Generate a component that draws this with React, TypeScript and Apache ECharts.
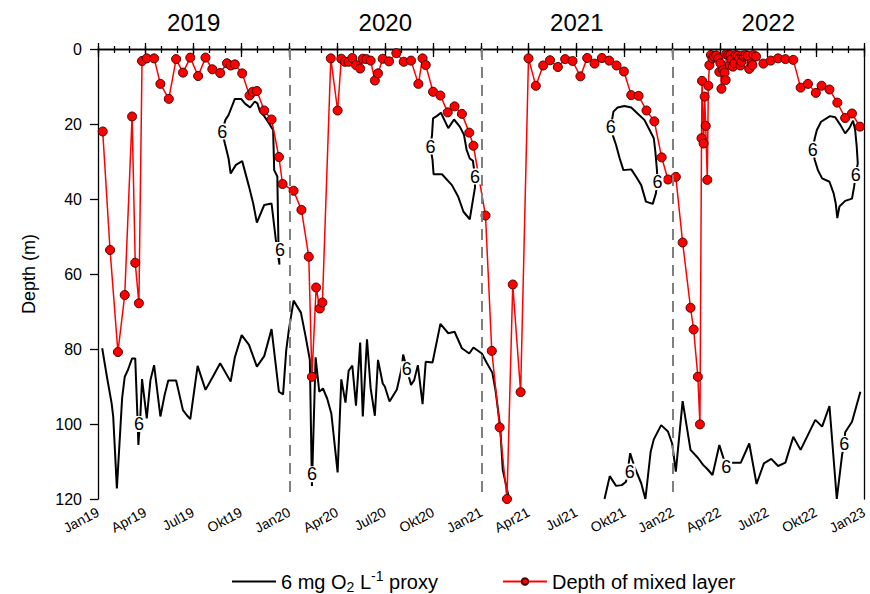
import React, { useEffect, useRef } from 'react';
import * as echarts from 'echarts';

// ---------- data ----------
const O2_NAME = '6 mg O2 L-1 proxy';
const MLD_NAME = 'Depth of mixed layer';

const yearLabels = ['2019', '2020', '2021', '2022'];
const dividerDates = ['2020-01-01', '2021-01-01', '2022-01-01'];
const monthAbbr = ['Jan', 'Feb', 'Mar', 'Apr', 'Mai', 'Jun', 'Jul', 'Aug', 'Sep', 'Okt', 'Nov', 'Dez'];
const depthTicks = [0, 20, 40, 60, 80, 100, 120];

// Depth of mixed layer (m)
const mld2019: [string, number][] = [
  ['2019-01-10', 22], ['2019-01-24', 53.6], ['2019-02-08', 80.8], ['2019-02-21', 65.6], ['2019-03-07', 18],
  ['2019-03-13', 57], ['2019-03-20', 67.8], ['2019-03-26', 3.2], ['2019-04-04', 2.5], ['2019-04-18', 2.5],
  ['2019-04-30', 9.3], ['2019-05-16', 13.3], ['2019-05-30', 2.7], ['2019-06-12', 6.3], ['2019-06-26', 2.3],
  ['2019-07-11', 7.2], ['2019-07-25', 2.3], ['2019-08-07', 5.4], ['2019-08-22', 6.4], ['2019-09-04', 3.8],
  ['2019-09-11', 4.4], ['2019-09-19', 4.1], ['2019-10-03', 6.5], ['2019-10-17', 12.4], ['2019-10-23', 11.4],
  ['2019-10-31', 11.2], ['2019-11-14', 16.4], ['2019-11-28', 18.8], ['2019-12-12', 28.8], ['2019-12-19', 36],
];
const mld2020: [string, number][] = [
  ['2020-01-09', 37.8], ['2020-01-24', 42.9], ['2020-02-07', 55.4], ['2020-02-13', 87.4], ['2020-02-21', 63.6],
  ['2020-02-28', 69.2], ['2020-03-04', 67.6], ['2020-03-20', 2.5], ['2020-04-02', 16.4], ['2020-04-09', 2.6],
  ['2020-04-16', 3.4], ['2020-04-23', 3.4], ['2020-04-30', 2.4], ['2020-05-07', 4.3], ['2020-05-15', 5.2],
  ['2020-05-20', 2.6], ['2020-05-27', 2.7], ['2020-06-04', 3.1], ['2020-06-12', 8.4], ['2020-06-18', 6.5],
  ['2020-06-27', 2.6], ['2020-07-09', 3.3], ['2020-07-23', 1.1], ['2020-08-06', 3.4], ['2020-08-20', 3.1],
  ['2020-09-03', 9.3], ['2020-09-11', 2.5], ['2020-09-17', 4.3], ['2020-10-01', 11.4], ['2020-10-15', 12.4],
  ['2020-10-29', 16.9], ['2020-11-11', 15.3], ['2020-11-25', 17.3], ['2020-12-09', 22.3], ['2020-12-17', 25.8],
];
const mld2021: [string, number][] = [
  ['2021-01-09', 44.4], ['2021-01-21', 80.5], ['2021-02-05', 100.9], ['2021-02-19', 120], ['2021-03-02', 62.8],
  ['2021-03-17', 91.5], ['2021-04-01', 2.5], ['2021-04-15', 9.8], ['2021-04-29', 4.4], ['2021-05-12', 3.0],
  ['2021-05-27', 4.8], ['2021-06-10', 2.7], ['2021-06-24', 3.2], ['2021-07-09', 7.3], ['2021-07-22', 2.4],
  ['2021-08-05', 3.9], ['2021-08-19', 2.4], ['2021-09-02', 3.1], ['2021-09-16', 4.4], ['2021-09-30', 6.0],
  ['2021-10-14', 12.3], ['2021-10-28', 12.5], ['2021-11-12', 16.4], ['2021-11-27', 19.3], ['2021-12-11', 28.9],
  ['2021-12-23', 34.8],
];
const mld2022: [string, number][] = [
  ['2022-01-07', 34.1], ['2022-01-20', 51.6], ['2022-02-04', 69], ['2022-02-10', 74.8], ['2022-02-18', 87.4],
  ['2022-02-22', 100.1], ['2022-02-25', 23.8], ['2022-02-26', 8.5], ['2022-03-01', 25.2], ['2022-03-03', 12.7],
  ['2022-03-05', 20.5], ['2022-03-08', 34.9], ['2022-03-10', 9.8], ['2022-03-12', 4.3], ['2022-03-15', 1.6],
  ['2022-03-18', 2.5], ['2022-03-21', 2.0], ['2022-03-25', 1.7], ['2022-03-29', 2.5], ['2022-03-31', 6.1],
  ['2022-04-02', 3.8], ['2022-04-04', 10.6], ['2022-04-07', 5.6], ['2022-04-10', 6.3], ['2022-04-12', 8.3],
  ['2022-04-13', 1.4], ['2022-04-17', 1.6], ['2022-04-20', 4.3], ['2022-04-21', 1.6], ['2022-04-23', 2.7],
  ['2022-04-26', 4.7], ['2022-04-29', 3.8], ['2022-05-01', 1.6], ['2022-05-05', 1.8], ['2022-05-08', 2.5],
  ['2022-05-10', 4.4], ['2022-05-12', 3.4], ['2022-05-14', 1.8], ['2022-05-17', 2.0], ['2022-05-20', 1.6],
  ['2022-05-24', 1.8], ['2022-05-27', 5.3], ['2022-05-31', 3.8], ['2022-06-02', 4.3], ['2022-06-04', 1.6],
  ['2022-06-09', 2.0], ['2022-06-23', 3.9], ['2022-07-07', 3.1], ['2022-07-21', 2.5], ['2022-08-04', 2.7],
  ['2022-08-19', 2.9], ['2022-09-02', 10.3], ['2022-09-16', 9.3], ['2022-10-01', 11.7], ['2022-10-12', 9.8],
  ['2022-10-27', 10.8], ['2022-11-11', 14.3], ['2022-11-26', 18.4], ['2022-12-09', 17.2], ['2022-12-24', 20.7],
];

// 6 mg O2 L-1 isoline (depth, m)
const o2Deep1: [string, number][] = [
  ['2019-01-09', 79.8], ['2019-01-18', 87.4], ['2019-01-27', 94.5], ['2019-01-30', 98], ['2019-02-06', 117.2],
  ['2019-02-16', 93.1], ['2019-02-21', 87.4], ['2019-02-27', 85.6], ['2019-03-07', 82.5], ['2019-03-13', 82.5],
  ['2019-03-17', 97.2], ['2019-03-19', 105.6], ['2019-03-23', 97.3], ['2019-03-26', 88], ['2019-04-04', 98.5],
  ['2019-04-11', 88.3], ['2019-04-18', 84.3], ['2019-04-30', 98], ['2019-05-08', 92.3], ['2019-05-15', 88.4],
  ['2019-05-30', 88.4], ['2019-06-12', 96.3], ['2019-06-19', 97.6], ['2019-06-26', 98.7], ['2019-07-10', 84.5],
  ['2019-07-25', 90.9], ['2019-08-08', 87.4], ['2019-08-22', 83.8], ['2019-09-11', 88.7], ['2019-09-19', 82.2],
  ['2019-10-02', 76.3], ['2019-10-16', 78.9], ['2019-10-31', 84.7], ['2019-11-14', 81.9], ['2019-11-28', 74.7],
  ['2019-12-12', 91.4], ['2019-12-20', 92.1], ['2019-12-26', 80.3], ['2019-12-31', 74.9], ['2020-01-09', 67.1],
  ['2020-01-23', 70.3], ['2020-02-01', 76.7], ['2020-02-09', 82.9], ['2020-02-13', 116.5], ['2020-02-20', 82.2],
  ['2020-02-27', 91.4], ['2020-03-05', 90.5], ['2020-03-13', 93.2], ['2020-03-21', 97.2], ['2020-04-02', 112.9],
  ['2020-04-09', 88.1], ['2020-04-17', 94.3], ['2020-04-23', 85.8], ['2020-04-30', 84.4], ['2020-05-07', 95.1],
  ['2020-05-15', 78.3], ['2020-05-20', 98], ['2020-05-28', 77.4], ['2020-06-04', 90.5], ['2020-06-12', 97.8],
  ['2020-06-18', 82.9], ['2020-06-27', 89.2], ['2020-07-01', 90], ['2020-07-10', 94], ['2020-07-24', 90.8],
  ['2020-08-02', 85.2], ['2020-08-05', 81.5], ['2020-08-20', 89.6], ['2020-08-26', 88.3], ['2020-09-02', 84.3],
  ['2020-09-11', 94.7], ['2020-09-17', 83.4], ['2020-09-30', 83.6], ['2020-10-15', 73.3], ['2020-10-30', 75.8],
  ['2020-11-11', 75.4], ['2020-11-25', 79.8], ['2020-12-09', 81.2], ['2020-12-17', 79.6], ['2021-01-02', 81.2],
  ['2021-01-11', 83.6], ['2021-01-22', 86.3], ['2021-01-28', 90.9], ['2021-02-06', 100.7], ['2021-02-11', 112.3],
  ['2021-02-18', 116.7], ['2021-02-23', 120],
];
const o2Deep2: [string, number][] = [
  ['2021-08-24', 120], ['2021-09-03', 113.9], ['2021-09-15', 116.5], ['2021-09-26', 116.3], ['2021-10-04', 115.4],
  ['2021-10-12', 107.8], ['2021-10-20', 111.4], ['2021-11-02', 115.8], ['2021-11-10', 120], ['2021-11-20', 107.4],
  ['2021-11-26', 104.1], ['2021-12-10', 100.3], ['2021-12-23', 102], ['2021-12-31', 105.2], ['2022-01-07', 112.7],
  ['2022-01-20', 93.9], ['2022-02-04', 106.9], ['2022-02-18', 109], ['2022-02-28', 110.9], ['2022-03-08', 112],
  ['2022-03-18', 113.6], ['2022-03-31', 105.6], ['2022-04-06', 108.3], ['2022-04-13', 111.4], ['2022-04-25', 110.3],
  ['2022-05-11', 110.3], ['2022-05-27', 105.2], ['2022-06-10', 116], ['2022-06-24', 110.5], ['2022-07-08', 109.3],
  ['2022-07-21', 111.2], ['2022-08-04', 110.3], ['2022-08-19', 103.4], ['2022-09-02', 106.9], ['2022-09-16', 102.9],
  ['2022-09-30', 98.9], ['2022-10-13', 100.7], ['2022-10-27', 95.2], ['2022-11-10', 120], ['2022-11-20', 108.3],
  ['2022-11-24', 105.3], ['2022-11-26', 102.2], ['2022-12-09', 99.4], ['2022-12-25', 91.4],
];
const o2Blob2019: [string, number][] = [
  ['2019-08-26', 22], ['2019-09-01', 18.9], ['2019-09-07', 17.6], ['2019-09-19', 13.3], ['2019-10-01', 13.3],
  ['2019-10-08', 14.5], ['2019-10-18', 15.6], ['2019-10-27', 14], ['2019-11-01', 14.5], ['2019-11-06', 16.7],
  ['2019-11-14', 17.9], ['2019-11-23', 19.8], ['2019-12-01', 21.6], ['2019-12-03', 32.3], ['2019-12-09', 34],
  ['2019-12-11', 50.9], ['2019-12-13', 57.5], ['2019-12-06', 50.7], ['2019-11-28', 41.2], ['2019-11-14', 41.6],
  ['2019-10-31', 46.3], ['2019-10-24', 41.2], ['2019-10-16', 36.7], ['2019-10-03', 29.9], ['2019-09-21', 30.9],
  ['2019-09-11', 33.2], ['2019-09-07', 29.2], ['2019-08-31', 25.2], ['2019-08-26', 22],
];
const o2Blob2020: [string, number][] = [
  ['2020-09-26', 26], ['2020-09-29', 23], ['2020-10-01', 18.5], ['2020-10-08', 17.9], ['2020-10-16', 17],
  ['2020-10-30', 21.1], ['2020-11-10', 18.8], ['2020-11-21', 20.7], ['2020-11-29', 22.9], ['2020-12-04', 26.9],
  ['2020-12-10', 29.2], ['2020-12-16', 29.8], ['2020-12-20', 34], ['2020-12-20', 36.9], ['2020-12-16', 40.3],
  ['2020-12-10', 45.4], ['2020-11-28', 43.4], ['2020-11-18', 39.4], ['2020-11-06', 36.3], ['2020-10-18', 33.4],
  ['2020-10-02', 33.4], ['2020-09-30', 29.6], ['2020-09-26', 26],
];
const o2Blob2021: [string, number][] = [
  ['2021-09-05', 20.9], ['2021-09-10', 16.7], ['2021-09-18', 15.6], ['2021-10-01', 15.2], ['2021-10-14', 15.6],
  ['2021-10-26', 17.2], ['2021-11-08', 18.9], ['2021-11-18', 21.6], ['2021-11-26', 23.8], ['2021-11-29', 27.4],
  ['2021-12-02', 32.3], ['2021-12-03', 35.5], ['2021-11-30', 38.5], ['2021-11-24', 41.3], ['2021-11-11', 40.7],
  ['2021-11-02', 36.3], ['2021-10-23', 34], ['2021-10-14', 32.1], ['2021-09-29', 32.3], ['2021-09-22', 29.2],
  ['2021-09-15', 25.6], ['2021-09-10', 23.5], ['2021-09-05', 20.9],
];
const o2Blob2022: [string, number][] = [
  ['2022-09-25', 26.8], ['2022-09-29', 23.8], ['2022-10-03', 21.6], ['2022-10-11', 19.4], ['2022-10-28', 17.9],
  ['2022-11-07', 18.2], ['2022-11-17', 20.3], ['2022-11-26', 22.5], ['2022-12-04', 21.1], ['2022-12-11', 19.1],
  ['2022-12-15', 21.6], ['2022-12-18', 26], ['2022-12-20', 30.5], ['2022-12-16', 33.6], ['2022-12-13', 36.7],
  ['2022-12-09', 39.9], ['2022-11-26', 40.5], ['2022-11-15', 42], ['2022-11-11', 45.1], ['2022-11-08', 41.2],
  ['2022-11-04', 38.5], ['2022-10-27', 35.4], ['2022-10-13', 34.5], ['2022-10-05', 32.3], ['2022-09-29', 29.6],
  ['2022-09-25', 26.8],
];
// positions of the "6" isoline labels
const o2Labels: [string, number][] = [
  ['2019-03-20', 100], ['2019-08-26', 22], ['2019-12-14', 53.6], ['2020-02-13', 113.4], ['2020-08-12', 85.4],
  ['2020-09-26', 26], ['2020-12-20', 34], ['2021-09-05', 20.9], ['2021-10-11', 112.7], ['2021-12-03', 35.5],
  ['2022-04-13', 111.4], ['2022-09-25', 26.8], ['2022-11-24', 105.3], ['2022-12-16', 33.6],
];

// ---------- helpers ----------
const FONT = 'Arial, "Liberation Sans", Helvetica, sans-serif';
const ts = (s: string) => {
  const [y, m, d] = s.split('-').map(Number);
  return Date.UTC(y, m - 1, d);
};
const toPts = (arr: [string, number][]) => arr.map((p) => [ts(p[0]), p[1]]);
const xMin = Date.UTC(2019, 0, 1);
const xMax = Date.UTC(2023, 0, 1);
const quarterTicks: number[] = [];
const monthTicks: number[] = [];
for (let y = 2019; y <= 2022; y++) {
  for (let m = 0; m < 12; m++) {
    monthTicks.push(Date.UTC(y, m, 1));
    if (m % 3 === 0) quarterTicks.push(Date.UTC(y, m, 1));
  }
}
quarterTicks.push(xMax);
monthTicks.push(xMax);

export default function App() {
  const ref = useRef<HTMLDivElement>(null);
  useEffect(() => {
    if (!ref.current) return;
    const chart = echarts.init(ref.current, undefined, { renderer: 'svg' });
    const axisLine = { show: true, lineStyle: { color: '#000', width: 1.3 } };
    const tickLine = { color: '#000', width: 1.3 };
    const baseX = { type: 'value', min: xMin, max: xMax, gridIndex: 0, splitLine: { show: false } };
    const contourSegs = [o2Deep1, o2Deep2, o2Blob2019, o2Blob2020, o2Blob2021, o2Blob2022];
    const mldAll = [...mld2019, ...mld2020, ...mld2021, ...mld2022];

    const option: any = {
      animation: false,
      textStyle: { fontFamily: FONT },
      grid: { left: 98, right: 3, top: 49, bottom: 95, containLabel: false },
      xAxis: [
        {
          ...baseX,
          position: 'bottom',
          axisLine,
          axisTick: { show: true, customValues: quarterTicks, length: 8, lineStyle: tickLine },
          axisLabel: {
            show: true,
            customValues: quarterTicks,
            rotate: 28,
            fontSize: 14,
            color: '#000',
            fontFamily: FONT,
            margin: 12,
            formatter: (v: number) => {
              const d = new Date(v);
              return monthAbbr[d.getUTCMonth()] + String(d.getUTCFullYear() % 100).padStart(2, '0');
            },
          },
        },
        {
          ...baseX,
          position: 'bottom',
          axisLine: { show: false },
          axisTick: { show: true, customValues: monthTicks, length: 4, lineStyle: tickLine },
          axisLabel: { show: false },
        },
        {
          ...baseX,
          position: 'top',
          axisLine,
          axisTick: { show: true, customValues: quarterTicks, length: 6, lineStyle: tickLine },
          axisLabel: { show: false },
        },
        {
          ...baseX,
          position: 'top',
          axisLine: { show: false },
          axisTick: { show: true, customValues: monthTicks, length: 3, lineStyle: tickLine },
          axisLabel: { show: false },
        },
        {
          type: 'category',
          data: yearLabels,
          position: 'top',
          boundaryGap: true,
          axisLine: { show: false },
          axisTick: { show: false },
          splitLine: { show: false },
          axisLabel: { fontSize: 24, color: '#000', fontFamily: FONT, margin: 15 },
        },
      ],
      yAxis: [
        {
          type: 'value',
          inverse: true,
          min: depthTicks[0],
          max: depthTicks[depthTicks.length - 1],
          interval: 20,
          position: 'left',
          name: 'Depth (m)',
          nameLocation: 'middle',
          nameRotate: 90,
          nameGap: 60,
          nameTextStyle: { fontSize: 18, color: '#000', fontFamily: FONT },
          axisLine,
          axisTick: { show: true, length: 8, lineStyle: tickLine },
          axisLabel: { fontSize: 16, color: '#000', fontFamily: FONT, margin: 16 },
          splitLine: { show: false },
        },
        {
          type: 'value',
          inverse: true,
          min: 0,
          max: 120,
          position: 'right',
          axisLine,
          axisTick: { show: false },
          axisLabel: { show: false },
          splitLine: { show: false },
        },
      ],
      legend: {
        data: [{ name: O2_NAME, icon: 'path://M0 0H40V2H0Z' }, { name: MLD_NAME }],
        top: 564,
        left: 227,
        itemGap: 64,
        itemWidth: 44,
        itemHeight: 8,
        textStyle: {
          fontSize: 20,
          color: '#000',
          fontFamily: FONT,
          lineHeight: 25,
          rich: {
            sub: { fontSize: 14, verticalAlign: 'bottom', lineHeight: 12, fontFamily: FONT, color: '#000' },
            sup: { fontSize: 14, verticalAlign: 'top', lineHeight: 12, fontFamily: FONT, color: '#000' },
          },
        },
        formatter: (name: string) => (name === O2_NAME ? '6 mg O{sub|2} L{sup|-1} proxy' : name),
      },
      series: [
        ...contourSegs.map((seg, i) => ({
          type: 'line',
          name: O2_NAME,
          xAxisIndex: 0,
          yAxisIndex: 0,
          data: toPts(seg),
          symbol: 'none',
          showSymbol: false,
          silent: true,
          lineStyle: { color: '#000', width: 2 },
          itemStyle: { color: '#000' },
          z: 2,
          markLine:
            i === 0
              ? {
                  silent: true,
                  symbol: ['none', 'none'],
                  label: { show: false },
                  lineStyle: { color: '#7f7f7f', width: 2, type: [11, 7] },
                  data: dividerDates.map((d) => ({ xAxis: ts(d) })),
                }
              : undefined,
        })),
        {
          type: 'line',
          name: MLD_NAME,
          xAxisIndex: 0,
          yAxisIndex: 0,
          data: toPts(mldAll),
          symbol: 'circle',
          symbolSize: 9,
          lineStyle: { color: '#ff0000', width: 1.5 },
          itemStyle: { color: '#ff0000', borderColor: '#4a0000', borderWidth: 1 },
          z: 3,
        },
        {
          type: 'scatter',
          name: 'isoline labels',
          xAxisIndex: 0,
          yAxisIndex: 0,
          data: toPts(o2Labels),
          symbol: 'rect',
          symbolSize: [12, 16],
          silent: true,
          itemStyle: { color: '#fff', opacity: 1 },
          label: {
            show: true,
            formatter: '6',
            position: 'inside',
            fontSize: 18,
            color: '#000',
            textBorderWidth: 0,
            fontFamily: FONT,
            opacity: 1,
          },
          z: 5,
        },
      ],
    };
    chart.setOption(option);
    return () => chart.dispose();
  }, []);
  return (
    <div
      ref={ref}
      style={{ position: 'absolute', left: 0, top: 0, width: 870, height: 594, background: '#fff' }}
    />
  );
}
